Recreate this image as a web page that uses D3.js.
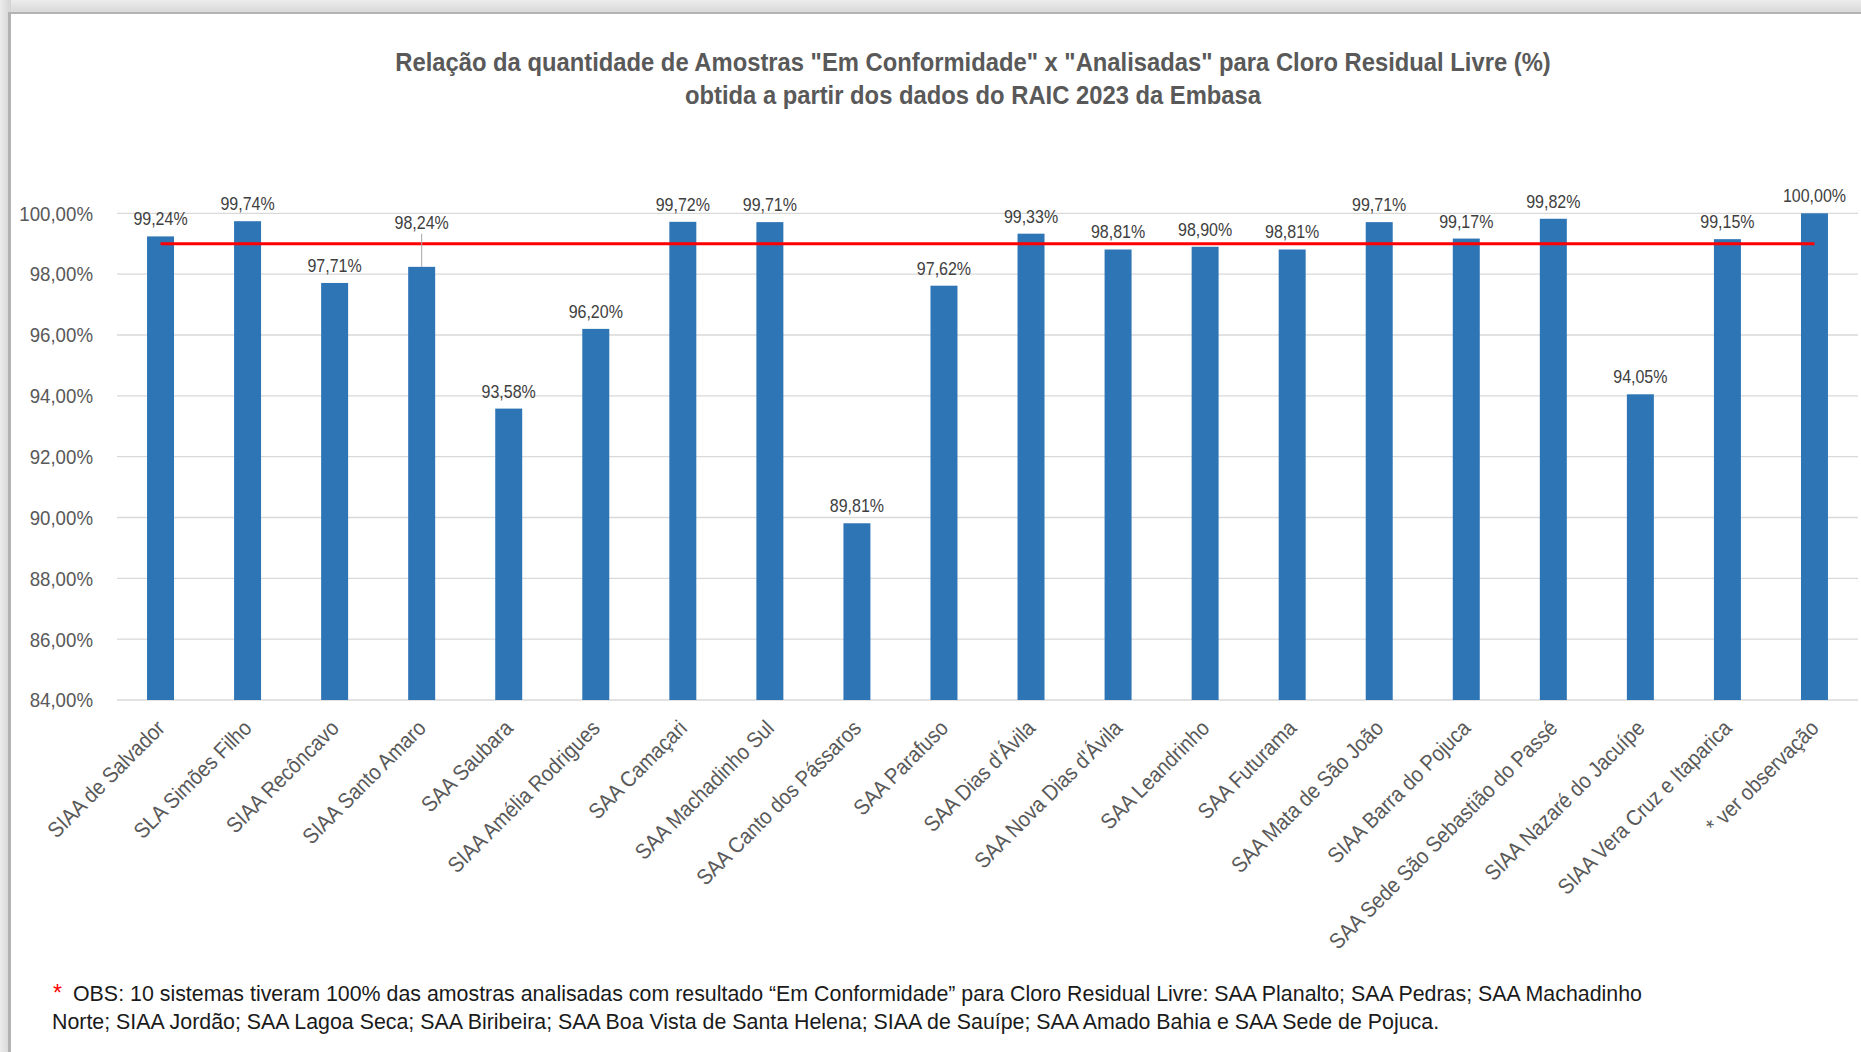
<!DOCTYPE html>
<html><head><meta charset="utf-8">
<script src="https://cdn.jsdelivr.net/npm/d3@7"></script>
<style>html,body{margin:0;padding:0;background:#fff;}svg{display:block;}</style>
</head><body>
<svg id="chart" width="1861" height="1052"></svg>
<script>
// ---- data ----
const categories = [
  "SIAA de Salvador","SLA Simões Filho","SIAA Recôncavo","SIAA Santo Amaro","SAA Saubara",
  "SIAA Amélia Rodrigues","SAA Camaçari","SAA Machadinho Sul","SAA Canto dos Pássaros","SAA Parafuso",
  "SAA Dias d'Ávila","SAA Nova Dias d'Ávila","SAA Leandrinho","SAA Futurama","SAA Mata de São João",
  "SIAA Barra do Pojuca","SAA Sede São Sebastião do Passé","SIAA Nazaré do Jacuípe","SIAA Vera Cruz e Itaparica","* ver observação"
];
const values = [99.24,99.74,97.71,98.24,93.58,96.20,99.72,99.71,89.81,97.62,99.33,98.81,98.90,98.81,99.71,99.17,99.82,94.05,99.15,100.00];
const referenceLine = [99.0, 99.0];
const yTicks = [84,86,88,90,92,94,96,98,100];
const titleLines = [
  'Relação da quantidade de Amostras "Em Conformidade" x "Analisadas" para Cloro Residual Livre (%)',
  'obtida a partir dos dados do RAIC 2023 da Embasa'
];
const noteLines = [
  'OBS: 10 sistemas tiveram 100% das amostras analisadas com resultado “Em Conformidade” para Cloro Residual Livre: SAA Planalto; SAA Pedras; SAA Machadinho',
  'Norte; SIAA Jordão; SAA Lagoa Seca; SAA Biribeira; SAA Boa Vista de Santa Helena; SIAA de Sauípe; SAA Amado Bahia e SAA Sede de Pojuca.'
];

// ---- layout / style ----
const FONT = "'Liberation Sans', Arial, sans-serif";
const K = 0.89; // horizontal condensing (narrow look)
const svg = d3.select("#chart");
const W = 1861, H = 1052;
const plot = {left:117, right:1858, top:213.3, bottom:700};

// frame
svg.append("rect").attr("x",0).attr("y",0).attr("width",W).attr("height",H).attr("fill","#fff");
const defs = svg.append("defs");
const gTop = defs.append("linearGradient").attr("id","gt").attr("x1",0).attr("y1",0).attr("x2",0).attr("y2",1);
gTop.append("stop").attr("offset","0").attr("stop-color","#ececec");
gTop.append("stop").attr("offset","1").attr("stop-color","#d6d6d6");
const gLeft = defs.append("linearGradient").attr("id","gl").attr("x1",0).attr("y1",0).attr("x2",1).attr("y2",0);
gLeft.append("stop").attr("offset","0").attr("stop-color","#ececec");
gLeft.append("stop").attr("offset","1").attr("stop-color","#d4d4d4");
svg.append("rect").attr("x",0).attr("y",0).attr("width",W).attr("height",14).attr("fill","url(#gt)");
svg.append("rect").attr("x",0).attr("y",0).attr("width",11).attr("height",H).attr("fill","url(#gl)");
svg.append("rect").attr("x",8).attr("y",12).attr("width",W-8).attr("height",2).attr("fill","#b3b3b3");
svg.append("rect").attr("x",8).attr("y",12).attr("width",3).attr("height",H-12).attr("fill","#b3b3b3");

// scales
const x = d3.scaleBand().domain(categories).range([plot.left, plot.right]).paddingInner(0.69).paddingOuter(0.345);
const y = d3.scaleLinear().domain([84,100]).range([plot.bottom, plot.top]);
const cx = d => x(d) + x.bandwidth()/2;

// gridlines
svg.append("g").selectAll("line").data(yTicks).join("line")
  .attr("x1",plot.left).attr("x2",plot.right)
  .attr("y1",d=>y(d)).attr("y2",d=>y(d))
  .attr("stroke","#d9d9d9").attr("stroke-width",d=>d===84?1.6:1.3);

// y axis labels via d3 axis
const yAxis = d3.axisLeft(y).tickValues(yTicks).tickSize(0).tickPadding(0)
  .tickFormat(d => d3.format(".2f")(d).replace(".", ",") + "%");
const ya = svg.append("g").attr("transform",`translate(93,0)`).call(yAxis);
ya.select(".domain").remove();
ya.selectAll("text").attr("font-family",FONT).attr("font-size",21).attr("fill","#595959")
  .attr("x",0).attr("dy","0.35em").attr("transform",`scale(${K},1)`);
ya.selectAll(".tick").each(function(d){
  d3.select(this).attr("transform",`translate(0,${y(d)})`);
});

// bars
svg.append("g").selectAll("rect").data(values).join("rect")
  .attr("x",(d,i)=>x(categories[i]))
  .attr("y",d=>y(d))
  .attr("width",x.bandwidth())
  .attr("height",d=>plot.bottom - y(d))
  .attr("fill","#2E75B6");

// reference line
svg.append("line")
  .attr("x1",cx(categories[0])).attr("x2",cx(categories[categories.length-1]))
  .attr("y1",y(referenceLine[0])).attr("y2",y(referenceLine[1]))
  .attr("stroke","#ff0000").attr("stroke-width",3);

// data labels
const lift = {3: 27}; // Santo Amaro label moved up with leader line
const fmt = d => d3.format(".2f")(d).replace(".", ",") + "%";
values.forEach((v,i)=>{
  const extra = lift[i] || 0;
  const ty = y(v) - 11 - extra;
  if (extra) {
    svg.append("line").attr("x1",cx(categories[i])).attr("x2",cx(categories[i]))
      .attr("y1",ty+5).attr("y2",y(v)).attr("stroke","#a6a6a6").attr("stroke-width",1);
  }
  svg.append("text").attr("x",cx(categories[i])/K).attr("y",ty)
    .attr("transform",`scale(${K},1)`)
    .attr("text-anchor","middle").attr("font-family",FONT).attr("font-size",18)
    .attr("fill","#404040").text(fmt(v));
});

// x labels
const KX = 0.9;
const xAxis = d3.axisBottom(x).tickSize(0).tickPadding(0);
const xa = svg.append("g").attr("transform",`translate(0,${plot.bottom})`).call(xAxis);
xa.select(".domain").remove();
xa.selectAll("text")
  .attr("font-family",FONT).attr("font-size",22).attr("fill","#595959")
  .attr("text-anchor","end").attr("dominant-baseline","central")
  .attr("x",0).attr("y",0).attr("dy",null)
  .attr("transform",`translate(0,24) rotate(-45) scale(${KX},1)`);

// title
const KT = 0.915;
titleLines.forEach((t,i)=>{
  svg.append("text").attr("x",973/KT).attr("y",71 + i*33)
    .attr("transform",`scale(${KT},1)`)
    .attr("text-anchor","middle").attr("font-family",FONT).attr("font-weight","bold")
    .attr("font-size",26).attr("fill","#595959").text(t);
});

// footnote
const KN = 0.93;
svg.append("text").attr("x",53).attr("y",1001).attr("font-family",FONT).attr("font-size",23)
  .attr("fill","#ff0000").text("*");
noteLines.forEach((t,i)=>{
  svg.append("text").attr("x",(i===0?73:52)/KN).attr("y",1001 + i*28)
    .attr("transform",`scale(${KN},1)`)
    .attr("font-family",FONT).attr("font-size",23).attr("fill","#1a1a1a").text(t);
});
</script>
</body></html>
